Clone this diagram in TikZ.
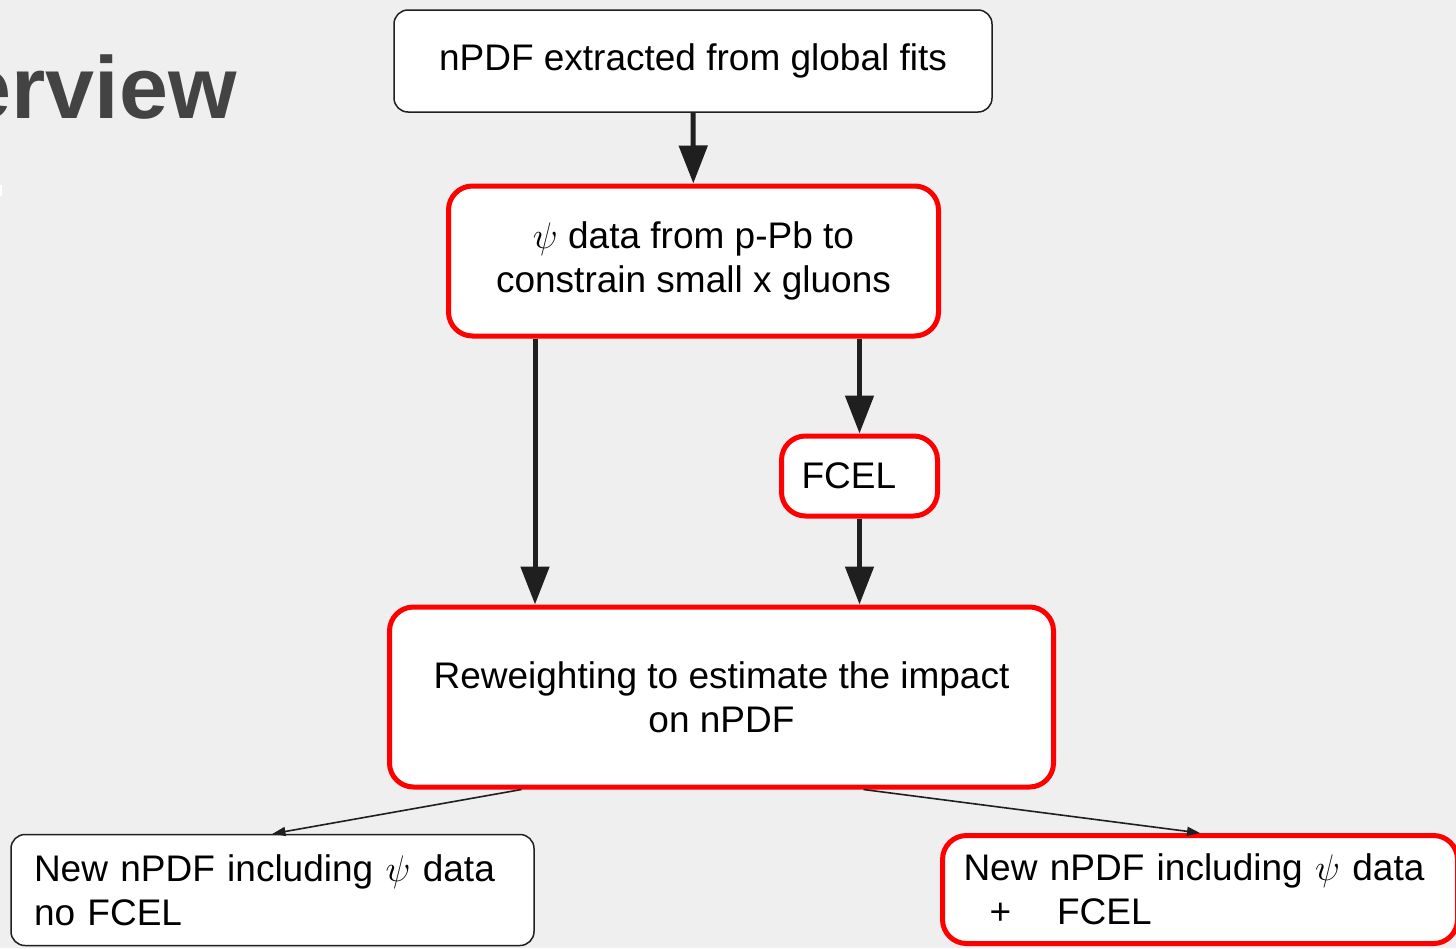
\RequirePackage{fix-cm}
\documentclass[tikz,border=0pt]{standalone}
\usepackage{fontspec}
\setmainfont{Liberation Sans}
\usetikzlibrary{arrows.meta}
\definecolor{slidebg}{HTML}{EFEFEF}
\definecolor{hotred}{HTML}{FF0000}
\definecolor{inkblack}{HTML}{1F1F1F}
\definecolor{titlegray}{HTML}{434343}
\tikzset{
  box/.style={draw=inkblack,line width=1.5pt,fill=white,rounded corners=14pt,
    font=\fontsize{37}{44}\selectfont,inner sep=0pt},
  redbox/.style={box,draw=hotred,line width=5pt,rounded corners=24pt},
  bigarrow/.style={draw=inkblack,line width=5pt,-{Triangle[width=28pt,length=38pt]}},
  thinarrow/.style={draw=inkblack,line width=1.6pt,-{Triangle[width=9pt,length=13pt]}}
}

\begin{document}
\begin{tikzpicture}[x=1pt,y=-1pt]
  \useasboundingbox (0,0) rectangle (1456,948);
  \fill[slidebg] (0,0) rectangle (1456,948);

  % slide heading, cut at the left edge
  \node[anchor=base east,inner sep=0pt,text=titlegray,
    font=\bfseries\fontsize{88}{100}\selectfont] (head) at (237,118) {erview};
  \fill[white] (0,185) rectangle (2,196);

  % boxes
  \node[box,minimum width=598pt,minimum height=102pt] (fits) at (693,61)
    {nPDF extracted from global fits};
  \node[redbox,align=center,minimum width=490pt,minimum height=150pt] (psi) at (693.5,261)
    {$\psi$ data from p-Pb to\\constrain small x gluons};
  \node[redbox,align=left,inner xsep=20pt,text width=116pt,minimum height=80pt] (fcel) at (859.5,476)
    {FCEL};
  \node[redbox,align=center,minimum width=664pt,minimum height=180pt] (rw) at (721.5,697)
    {Reweighting to estimate the impact\\on nPDF};
  \node[box,align=left,inner xsep=23pt,text width=477pt,minimum height=111pt] (nofcel) at (272.5,890)
    {New nPDF including $\psi$ data\\no FCEL};
  \node[redbox,align=left,inner xsep=21pt,text width=473pt,minimum height=108pt] (withfcel) at (1200,889.5)
    {New nPDF including $\psi$ data\\\hspace*{26pt}+\hspace{46pt}FCEL};

  % arrows
  \coordinate (lft) at ([xshift=89pt]psi.south west);
  \draw[bigarrow] (fits) -- (psi);
  \draw[bigarrow] (lft) -- (lft |- rw.north);
  \draw[bigarrow] (fcel.north |- psi.south) -- (fcel.north);
  \draw[bigarrow] (fcel) -- (fcel |- rw.north);
  \draw[thinarrow] ([xshift=-200pt]rw.south) -- (nofcel.north);
  \draw[thinarrow] ([xshift=142pt]rw.south) -- (withfcel.north);
\end{tikzpicture}
\end{document}
